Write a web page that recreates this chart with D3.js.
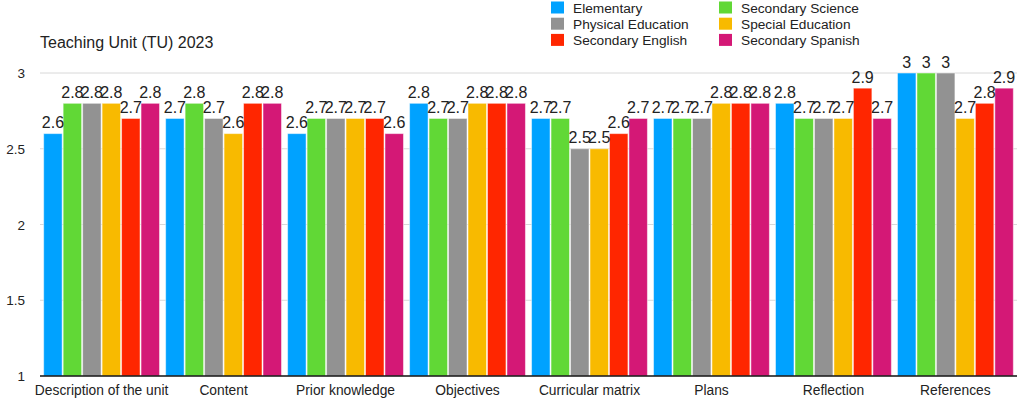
<!DOCTYPE html>
<html>
<head>
<meta charset="utf-8">
<script src="https://cdn.jsdelivr.net/npm/d3@7"></script>
<style>
  body { margin: 0; background: #fff; }
  svg { display: block; font-family: "Liberation Sans", Arial, sans-serif; }
</style>
</head>
<body>
<svg width="1024" height="399"></svg>
<script>
let categories = ["Description of the unit", "Content", "Prior knowledge", "Objectives",
  "Curricular matrix", "Plans", "Reflection", "References"];
let seriesNames = ["Elementary", "Secondary Science", "Physical Education",
  "Special Education", "Secondary English", "Secondary Spanish"];
let seriesColors = ["#00a2ff", "#61d836", "#929292", "#f8ba00", "#ff2600", "#d41876"];

// one array per series, in category order
let elementary        = [2.6, 2.7, 2.6, 2.8, 2.7, 2.7, 2.8, 3];
let secondaryScience  = [2.8, 2.8, 2.7, 2.7, 2.7, 2.7, 2.7, 3];
let physicalEducation = [2.8, 2.7, 2.7, 2.7, 2.5, 2.7, 2.7, 3];
let specialEducation  = [2.8, 2.6, 2.7, 2.8, 2.5, 2.8, 2.7, 2.7];
let secondaryEnglish  = [2.7, 2.8, 2.7, 2.8, 2.6, 2.8, 2.9, 2.8];
let secondarySpanish  = [2.8, 2.8, 2.6, 2.8, 2.7, 2.8, 2.7, 2.9];
let yTicks = [1, 1.5, 2, 2.5, 3];

let seriesValues = [elementary, secondaryScience, physicalEducation,
  specialEducation, secondaryEnglish, secondarySpanish];

let svg = d3.select('svg');
let plotLeft = 40, plotRight = 1017, plotTop = 73, plotBottom = 376;

let x = d3.scaleBand().domain(categories).range([plotLeft, plotRight]).paddingInner(0.05).paddingOuter(0.03);
let xInner = d3.scaleBand().domain(seriesNames).range([0, x.bandwidth()]).paddingInner(0.05);
let y = d3.scaleLinear().domain([1, 3]).range([plotBottom, plotTop]);

// title
svg.append('text')
  .attr('x', 40).attr('y', 48)
  .attr('font-size', 16)
  .attr('fill', '#222')
  .text('Teaching Unit (TU) 2023');

// grid lines
svg.selectAll('line.grid').data(yTicks.filter(d => d > 1)).enter().append('line')
  .attr('class', 'grid')
  .attr('x1', plotLeft).attr('x2', plotRight)
  .attr('y1', d => y(d)).attr('y2', d => y(d))
  .attr('stroke', '#d8d8d8').attr('stroke-width', 1);

// y tick labels
svg.selectAll('text.ytick').data(yTicks).enter().append('text')
  .attr('class', 'ytick')
  .attr('x', 25)
  .attr('y', d => y(d) + 5)
  .attr('text-anchor', 'end')
  .attr('font-size', 13.5)
  .attr('fill', '#222')
  .text(d => d);

// bars
let groups = svg.selectAll('g.cat').data(categories).enter().append('g')
  .attr('class', 'cat')
  .attr('transform', d => 'translate(' + x(d) + ',0)');

let barData = function(cat, ci) {
  return seriesNames.map(function(name, si) {
    return { name: name, color: seriesColors[si], value: seriesValues[si][ci] };
  });
};

groups.selectAll('rect').data(barData).enter().append('rect')
  .attr('x', d => xInner(d.name))
  .attr('y', d => y(d.value))
  .attr('width', xInner.bandwidth())
  .attr('height', d => y(1) - y(d.value))
  .attr('fill', d => d.color)
  .attr('stroke', '#ffffff')
  .attr('stroke-opacity', 0.5)
  .attr('stroke-width', 1);

groups.selectAll('text').data(barData).enter().append('text')
  .attr('x', d => xInner(d.name) + xInner.bandwidth() / 2)
  .attr('y', d => y(d.value) - 5.5)
  .attr('text-anchor', 'middle')
  .attr('font-size', 16)
  .attr('fill', '#222')
  .text(d => d.value);

// x axis line
svg.append('line')
  .attr('x1', plotLeft).attr('x2', plotRight)
  .attr('y1', y(1)).attr('y2', y(1))
  .attr('stroke', '#111').attr('stroke-width', 1.5);

// category labels
svg.selectAll('text.xlab').data(categories).enter().append('text')
  .attr('class', 'xlab')
  .attr('x', d => x(d) + x.bandwidth() / 2)
  .attr('y', 395)
  .attr('text-anchor', 'middle')
  .attr('font-size', 13.8)
  .attr('fill', '#222')
  .text(d => d);

// legend, two columns
let legend = svg.selectAll('g.legend').data(seriesNames).enter().append('g')
  .attr('class', 'legend')
  .attr('transform', (d, i) => 'translate(' + (i % 2 === 0 ? 551 : 719) + ',' + (1.5 + Math.floor(i / 2) * 16.2) + ')');

legend.append('rect')
  .attr('width', 13).attr('height', 12)
  .attr('fill', (d, i) => seriesColors[i]);

legend.append('text')
  .attr('x', 22).attr('y', 11)
  .attr('font-size', 13.7)
  .attr('fill', '#222')
  .text(d => d);
</script>
</body>
</html>
